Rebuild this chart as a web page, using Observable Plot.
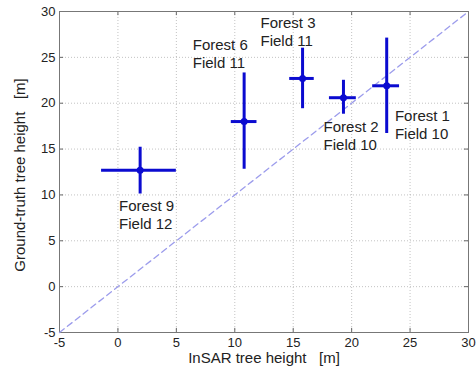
<!DOCTYPE html>
<html>
<head>
<meta charset="utf-8">
<script src="https://cdn.jsdelivr.net/npm/d3@7"></script>
<script src="https://cdn.jsdelivr.net/npm/@observablehq/plot@0.6"></script>
<style>
  html, body { margin: 0; padding: 0; background: #fff; }
  svg { display: block; }
</style>
</head>
<body>
<div id="chart"></div>
<script>
const names = ["Forest 9", "Forest 6", "Forest 3", "Forest 2", "Forest 1"];
const fields = ["Field 12", "Field 11", "Field 11", "Field 10", "Field 10"];
const insar = [1.9, 10.8, 15.8, 19.3, 23.0];
const insarLo = [-1.4, 9.7, 14.7, 18.1, 21.8];
const insarHi = [5.0, 11.9, 16.8, 20.4, 24.1];
const truth = [12.7, 18.0, 22.7, 20.6, 21.9];
const truthLo = [10.1, 12.8, 19.4, 18.8, 16.7];
const truthHi = [15.2, 23.3, 26.0, 22.5, 27.1];
const labelX = [0.1, 6.4, 12.2, 17.6, 23.7];
const labelY = [7.9, 25.45, 27.85, 16.5, 17.75];
const xTicks = [-5, 0, 5, 10, 15, 20, 25, 30];
const yTicks = [-5, 0, 5, 10, 15, 20, 25, 30];
const diag = [-5, 30];
const xLabel = "InSAR tree height\u00a0\u00a0\u00a0[m]";
const yLabel = "Ground-truth tree height\u00a0\u00a0\u00a0[m]";

const rows = names.map((n, i) => ({
  name: n, field: fields[i],
  x: insar[i], xlo: insarLo[i], xhi: insarHi[i],
  y: truth[i], ylo: truthLo[i], yhi: truthHi[i],
  lx: labelX[i], ly: labelY[i]
}));

const blue = "#0b0bd0";
const chart = Plot.plot({
  width: 476,
  height: 379,
  marginLeft: 59,
  marginRight: 8,
  marginTop: 11,
  marginBottom: 47,
  style: { fontFamily: "'Liberation Sans', Arial, sans-serif", fontSize: "13px", color: "#222", background: "#fff" },
  x: { domain: [-5, 30] },
  y: { domain: [-5, 30] },
  marks: [
    Plot.gridX(xTicks, { stroke: "#999", strokeOpacity: 0.6, strokeDasharray: "1,2" }),
    Plot.gridY(yTicks, { stroke: "#999", strokeOpacity: 0.6, strokeDasharray: "1,2" }),
    Plot.ruleX(xTicks, { y1: -5, y2: -4.55, stroke: "#666" }),
    Plot.ruleX(xTicks, { y1: 30, y2: 29.55, stroke: "#666" }),
    Plot.ruleY(yTicks, { x1: -5, x2: -4.65, stroke: "#666" }),
    Plot.ruleY(yTicks, { x1: 30, x2: 29.65, stroke: "#666" }),
    Plot.frame({ stroke: "#777" }),
    Plot.axisX(xTicks, { tickSize: 0, tickPadding: 5, label: null, fontSize: 13, tickFormat: d => String(d) }),
    Plot.axisY(yTicks, { tickSize: 0, tickPadding: 4, label: null, fontSize: 13, tickFormat: d => String(d) }),
    Plot.text([xLabel], { frameAnchor: "bottom", dy: 26, textAnchor: "middle", lineAnchor: "middle", fontSize: 15 }),
    Plot.text([yLabel], { frameAnchor: "left", dx: -39, dy: 3, rotate: -90, textAnchor: "middle", lineAnchor: "middle", fontSize: 15 }),
    Plot.line(diag, { x: d => d, y: d => d, stroke: "#9c9cec", strokeWidth: 1.3, strokeDasharray: "6,4" }),
    Plot.ruleX(rows, { x: "x", y1: "ylo", y2: "yhi", stroke: blue, strokeWidth: 3 }),
    Plot.ruleY(rows, { y: "y", x1: "xlo", x2: "xhi", stroke: blue, strokeWidth: 3 }),
    Plot.dot(rows, { x: "x", y: "y", r: 3.5, fill: blue }),
    Plot.text(rows, { x: "lx", y: "ly", text: d => d.name + "\n" + d.field, textAnchor: "start", lineAnchor: "middle", lineHeight: 1.2, fontSize: 15, fill: "#222" })
  ]
});
document.getElementById("chart").appendChild(chart);
</script>
</body>
</html>
